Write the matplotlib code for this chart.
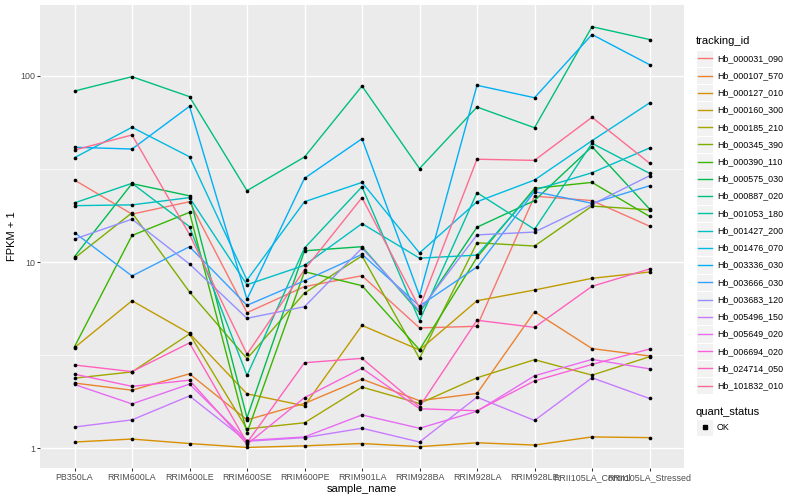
import matplotlib
matplotlib.use('Agg')
import matplotlib.pyplot as plt
from matplotlib.lines import Line2D
from matplotlib.patches import Rectangle
from matplotlib.ticker import FixedLocator, NullFormatter
import numpy as np

plt.rcParams['font.family'] = ['Liberation Sans', 'DejaVu Sans']

samples = ['PB350LA', 'RRIM600LA', 'RRIM600LE', 'RRIM600SE', 'RRIM600PE', 'RRIM901LA',
           'RRIM928BA', 'RRIM928LA', 'RRIM928LE', 'RRII105LA_Control', 'RRII105LA_Stressed']

tracking_ids = ['Hb_000031_090', 'Hb_000107_570', 'Hb_000127_010', 'Hb_000160_300',
                'Hb_000185_210', 'Hb_000345_390', 'Hb_000390_110', 'Hb_000575_030',
                'Hb_000887_020', 'Hb_001053_180', 'Hb_001427_200', 'Hb_001476_070',
                'Hb_003336_030', 'Hb_003666_030', 'Hb_003683_120', 'Hb_005496_150',
                'Hb_005649_020', 'Hb_006694_020', 'Hb_024714_050', 'Hb_101832_010']

colors = ["#F8766D", "#EA8331", "#D89000", "#C09B00", "#A3A500", "#7CAE00", "#39B600",
          "#00BB4E", "#00BF7D", "#00C1A3", "#00BFC4", "#00BAE0", "#00B0F6", "#35A2FF",
          "#9590FF", "#C77CFF", "#E76BF3", "#FA62DB", "#FF62BC", "#FF6C91"]

# FPKM + 1 per sample (order of `samples`)
hb_000031_090 = [27.6, 18.1, 21.1, 5.35, 7.38, 8.45, 4.43, 4.52, 22.6, 21.4, 15.6]
hb_000107_570 = [2.24, 2.05, 2.51, 1.42, 1.74, 2.35, 1.80, 1.97, 5.41, 3.43, 3.13]
hb_000127_010 = [1.08, 1.12, 1.06, 1.01, 1.03, 1.06, 1.02, 1.07, 1.04, 1.15, 1.14]
hb_000160_300 = [3.47, 6.20, 4.14, 1.96, 1.69, 4.57, 3.37, 6.20, 7.08, 8.18, 8.85]
hb_000185_210 = [2.38, 2.57, 4.11, 1.27, 1.37, 2.13, 1.74, 2.39, 2.99, 2.47, 3.10]
hb_000345_390 = [10.5, 18.4, 6.91, 3.03, 6.82, 10.8, 3.04, 12.7, 12.2, 20.0, 19.1]
hb_000390_110 = [3.51, 13.9, 18.5, 1.21, 8.88, 7.47, 3.38, 10.6, 24.9, 26.8, 17.6]
hb_000575_030 = [10.7, 26.4, 22.7, 1.46, 11.5, 12.1, 5.35, 15.4, 21.4, 41.7, 19.3]
hb_000887_020 = [83.0, 99.1, 77.4, 24.2, 36.7, 88.3, 31.8, 68.1, 52.7, 184.0, 157.0]
hb_001053_180 = [20.8, 26.5, 15.5, 2.46, 11.9, 25.4, 4.84, 23.6, 15.0, 43.5, 30.0]
hb_001427_200 = [20.1, 20.3, 22.2, 7.56, 9.61, 16.1, 10.5, 10.9, 24.4, 30.2, 41.0]
hb_001476_070 = [36.4, 53.0, 36.8, 8.01, 21.1, 26.8, 11.2, 21.1, 27.6, 44.9, 71.6]
hb_003336_030 = [41.4, 40.5, 68.7, 6.31, 28.2, 46.0, 6.60, 89.1, 76.4, 167.0, 115.0]
hb_003666_030 = [14.4, 8.42, 12.1, 5.86, 7.94, 11.0, 5.81, 9.41, 23.9, 20.7, 25.7]
hb_003683_120 = [13.3, 17.0, 9.77, 4.99, 5.76, 11.9, 5.48, 14.0, 14.5, 20.4, 29.1]
hb_005496_150 = [1.30, 1.42, 1.91, 1.09, 1.14, 1.28, 1.08, 1.88, 1.41, 2.39, 1.85]
hb_005649_020 = [2.20, 1.73, 2.21, 1.10, 1.15, 1.51, 1.28, 1.58, 2.45, 3.00, 2.67]
hb_006694_020 = [2.50, 2.15, 2.32, 1.05, 1.87, 2.69, 1.63, 1.59, 2.30, 2.82, 3.41]
hb_024714_050 = [2.80, 2.58, 3.68, 1.07, 2.88, 3.04, 1.67, 4.87, 4.46, 7.41, 9.18]
hb_101832_010 = [40.0, 48.2, 14.1, 3.20, 9.10, 22.2, 5.67, 35.7, 35.2, 60.0, 34.0]

series = [hb_000031_090, hb_000107_570, hb_000127_010, hb_000160_300, hb_000185_210,
          hb_000345_390, hb_000390_110, hb_000575_030, hb_000887_020, hb_001053_180,
          hb_001427_200, hb_001476_070, hb_003336_030, hb_003666_030, hb_003683_120,
          hb_005496_150, hb_005649_020, hb_006694_020, hb_024714_050, hb_101832_010]

W, H = 800, 500
fig = plt.figure(figsize=(W / 100, H / 100), dpi=100)
fx = lambda px: px / W
fy = lambda py: 1 - py / H

ax = fig.add_axes([fx(40), fy(468), (684 - 40) / W, (468 - 5) / H])
ax.set_facecolor('#EBEBEB')
x = np.arange(len(samples))
for vals, col in zip(series, colors):
    ax.plot(x, vals, color=col, lw=1.0, zorder=2, solid_capstyle='butt')
for vals in series:
    ax.scatter(x, vals, s=7, c='black', marker='o', zorder=3, linewidths=0)

ax.set_yscale('log')
ax.set_ylim(0.783, 240.6)
ax.set_xlim(-0.6, len(samples) - 1 + 0.6)
ax.set_xticks(x)
ax.set_xticklabels(samples)
ax.yaxis.set_major_locator(FixedLocator([1, 10, 100]))
ax.set_yticklabels(['1', '10', '100'])
ax.yaxis.set_minor_locator(FixedLocator([10 ** 0.5, 10 ** 1.5]))
ax.yaxis.set_minor_formatter(NullFormatter())
ax.grid(which='major', color='white', lw=1.0)
ax.grid(which='minor', axis='y', color='white', lw=0.5)
ax.set_axisbelow(True)
for s in ax.spines.values():
    s.set_visible(False)
ax.tick_params(which='major', length=2, width=0.75, color='#333333',
               labelsize=6.4, labelcolor='#4D4D4D', pad=1.6)
ax.tick_params(which='minor', length=0)

fig.text(fx(362), fy(489), 'sample_name', ha='center', va='center', fontsize=8, color='black')
fig.text(fx(12), fy(236), 'FPKM + 1', ha='center', va='center', rotation=90, fontsize=8, color='black')

# legend: tracking_id
fig.text(fx(696), fy(40.7), 'tracking_id', ha='left', va='center', fontsize=8, color='black')
ks = 17.23
for i, (tid, col) in enumerate(zip(tracking_ids, colors)):
    cy = 58.3 + ks * i
    fig.add_artist(Rectangle((fx(696), fy(cy + ks / 2)), ks / W, ks / H,
                             facecolor='#F2F2F2', edgecolor='white', lw=0.8,
                             transform=fig.transFigure))
    fig.add_artist(Line2D([fx(697.7), fx(711.6)], [fy(cy), fy(cy)], color=col, lw=1.0,
                          transform=fig.transFigure))
    fig.text(fx(717), fy(cy), tid, ha='left', va='center', fontsize=6.4, color='black')

fig.text(fx(696), fy(412), 'quant_status', ha='left', va='center', fontsize=8, color='black')
cy = 427.3
fig.add_artist(Rectangle((fx(696), fy(cy + ks / 2)), ks / W, ks / H,
                         facecolor='#F2F2F2', edgecolor='white', lw=0.8,
                         transform=fig.transFigure))
fig.add_artist(Line2D([fx(704.6)], [fy(cy)], marker='s', markersize=2.6, color='black',
                      linestyle='none', transform=fig.transFigure))
fig.text(fx(717), fy(cy), 'OK', ha='left', va='center', fontsize=6.4, color='black')

fig.savefig('out.png', dpi=100)
